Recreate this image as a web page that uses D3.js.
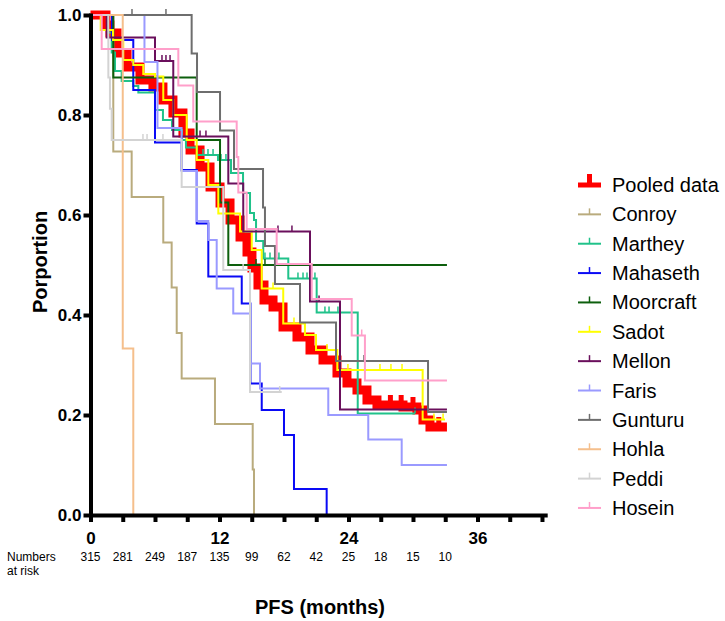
<!DOCTYPE html>
<html>
<head>
<meta charset="utf-8">
<script src="https://cdn.jsdelivr.net/npm/d3@7"></script>
<style>
  body { margin: 0; background: #fff; }
  svg { font-family: Arial, "Liberation Sans", sans-serif; }
</style>
</head>
<body>
<svg id="chart" width="725" height="621"></svg>
<script>
// Kaplan-Meier steps: [month, proportion from that month on]
var pooled = [[0,1],[1.44,0.98],[1.81,0.964],[2.47,0.924],[3.4,0.896],[4.6,0.87],[5.81,0.856],[6.74,0.83],[7.67,0.804],
  [8.6,0.764],[9.26,0.73],[10.19,0.696],[11.12,0.656],[12.05,0.624],[12.98,0.59],[13.91,0.556],[14.56,0.526],[15.02,0.494],
  [15.58,0.46],[16.14,0.43],[16.98,0.416],[17.91,0.376],[19.21,0.356],[20.42,0.33],[21.63,0.31],[22.93,0.284],[23.86,0.264],
  [24.79,0.25],[25.72,0.23],[26.65,0.22],[29.07,0.216],[30.37,0.21],[30.93,0.19],[31.58,0.176]];
var conroy = [[0,1],[2.12,0.727],[3.83,0.636],[6.77,0.545],[7.55,0.455],[8.02,0.364],[8.48,0.273],[11.58,0.182],[15.09,0.091],[15.21,0]];
var marthey = [[0,1],[1.53,0.965],[1.97,0.925],[2.28,0.888],[2.9,0.868],[3.98,0.858],[4.45,0.845],[6.0,0.81],[6.74,0.79],
  [7.58,0.77],[8.51,0.75],[8.88,0.735],[9.91,0.72],[11.86,0.71],[13.07,0.684],[14.19,0.644],[14.84,0.604],[15.21,0.59],
  [15.4,0.548],[16.07,0.513],[18.4,0.473],[21.04,0.405],[24.86,0.203]];
var mahaseth = [[0,1],[2.0,0.95],[3.98,0.85],[6.0,0.745],[8.48,0.69],[9.88,0.583],[10.96,0.477],[14.07,0.423],[14.88,0.263],
  [15.93,0.21],[18.0,0.16],[18.93,0.052],[21.97,0]];
var moorcraft = [[0,1],[2.12,0.875],[9.88,0.75],[12.05,0.625],[12.82,0.5]];
var sadot = [[0,1],[0.95,0.97],[2.09,0.95],[3.05,0.91],[3.98,0.9],[4.91,0.882],[6.0,0.877],[6.77,0.83],[7.7,0.8],[8.95,0.75],
  [9.88,0.71],[10.96,0.66],[11.89,0.603],[13.91,0.567],[15.0,0.53],[15.93,0.453],[17.93,0.383],[19.95,0.36],[20.98,0.33],
  [22.96,0.29],[30.9,0.191]];
var mellon = [[0,1],[1.51,0.955],[6.0,0.908],[7.7,0.757],[12.82,0.663],[14.21,0.567],[20.42,0.427],[23.21,0.211]];
var faris = [[0,1],[5.02,0.906],[6.23,0.774],[8.47,0.688],[9.91,0.588],[10.96,0.55],[11.74,0.453],[13.28,0.403],[14.84,0.303],
  [15.77,0.253],[22.12,0.2],[25.84,0.151],[28.95,0.1]];
var gunturu = [[0,1],[9.41,0.923],[9.91,0.846],[12.05,0.769],[13.35,0.692],[16.05,0.615],[16.23,0.538],[17.16,0.462],
  [19.49,0.385],[22.84,0.308],[31.4,0.206]];
var hohla = [[0,1],[3.0,0.333],[3.98,0]];
var peddi = [[0,1],[1.66,0.875],[1.81,0.8125],[1.97,0.75],[8.48,0.656],[12.35,0.49],[14.84,0.246]];
var hosein = [[0,1],[1.04,0.932],[8.17,0.859],[9.56,0.787],[13.6,0.716],[13.75,0.645],[14.53,0.572],[17.32,0.502],
  [20.58,0.432],[24.3,0.359],[25.53,0.269]];

// censored observations (months)
var pooledCens = [27.9, 28.9, 30.0, 32.4];
var marthyCens = [10.47, 10.93, 11.4, 12.14, 12.6, 16.23, 16.7, 17.53, 19.3, 19.77, 20.14, 20.88, 21.81, 22.19, 23.02, 30.19];
var moorcraftCens = [15.4, 16.23];
var sadotCens = [16.98, 18.93, 22.0, 23.95, 26.93, 27.95, 28.98, 31.95, 32.8];
var mellonCens = [6.65, 7.02, 7.4, 10.19, 10.74, 17.44, 18.74, 21.26];
var gunturuCens = [3.86, 7.02, 25.44];
var peddiCens = [4.88, 5.26, 6.74, 14.2, 17.6];
var hoseinCens = [25.23];

// last follow-up (months)
var studyEnd = {Conroy: 15.21, Marthey: 30.19, Mahaseth: 21.97, Moorcraft: 33.16, Sadot: 32.98, Mellon: 33.16,
  Faris: 33.16, Gunturu: 33.16, Hohla: 3.98, Peddi: 17.79, Hosein: 33.16};
var pooledEnd = 33.16;

var studyNames = ["Conroy", "Marthey", "Mahaseth", "Moorcraft", "Sadot", "Mellon", "Faris", "Gunturu", "Hohla", "Peddi", "Hosein"];
var studyColors = ["#b9ab7d", "#20c28a", "#0a0af5", "#0d5f0d", "#ffff00", "#6a0f5c", "#9a9aff", "#6e6e6e", "#f5bf8c", "#d3d3d3", "#ff9fca"];

var riskMonths = [0, 3, 6, 9, 12, 15, 18, 21, 24, 27, 30, 33];
var atRisk = [315, 281, 249, 187, 135, 99, 62, 42, 25, 18, 15, 10];

var studies = [
  {steps: conroy, cens: []}, {steps: marthey, cens: marthyCens}, {steps: mahaseth, cens: []},
  {steps: moorcraft, cens: moorcraftCens}, {steps: sadot, cens: sadotCens}, {steps: mellon, cens: mellonCens},
  {steps: faris, cens: []}, {steps: gunturu, cens: gunturuCens}, {steps: hohla, cens: []},
  {steps: peddi, cens: peddiCens}, {steps: hosein, cens: hoseinCens}
];
studies.forEach(function(s, i) { s.name = studyNames[i]; s.color = studyColors[i]; s.end = studyEnd[s.name]; });

var svg = d3.select("#chart");
var x = d3.scaleLinear().domain([0, 42.3]).range([90.5, 545.2]);
var y = d3.scaleLinear().domain([0, 1]).range([515, 15]);

function survAt(steps, t) {
  var s = 1;
  steps.forEach(function(p) { if (p[0] <= t) s = p[1]; });
  return s;
}
function withEnd(steps, end) {
  var pts = steps.slice();
  if (end > pts[pts.length - 1][0]) pts.push([end, pts[pts.length - 1][1]]);
  return pts;
}

var line = d3.line()
  .x(function(d) { return x(d[0]); })
  .y(function(d) { return y(d[1]); })
  .curve(d3.curveStepAfter);

var plot = svg.append("g");

// pooled curve, drawn first and thick
plot.append("path")
  .attr("d", line(withEnd(pooled, pooledEnd)))
  .attr("fill", "none")
  .attr("stroke", "#ff0000")
  .attr("stroke-width", 9)
  .attr("stroke-linejoin", "miter");
plot.selectAll(".pc").data(pooledCens).enter().append("line")
  .attr("x1", function(d) { return x(d); }).attr("x2", function(d) { return x(d); })
  .attr("y1", function(d) { return y(survAt(pooled, d)); })
  .attr("y2", function(d) { return y(survAt(pooled, d)) - 10; })
  .attr("stroke", "#ff0000").attr("stroke-width", 5);

studies.forEach(function(s) {
  var g = plot.append("g");
  g.append("path")
    .attr("d", line(withEnd(s.steps, s.end)))
    .attr("fill", "none")
    .attr("stroke", s.color)
    .attr("stroke-width", 2);
  g.selectAll("line").data(s.cens).enter().append("line")
    .attr("x1", function(d) { return x(d); }).attr("x2", function(d) { return x(d); })
    .attr("y1", function(d) { return y(survAt(s.steps, d)); })
    .attr("y2", function(d) { return y(survAt(s.steps, d)) - 6; })
    .attr("stroke", s.color).attr("stroke-width", 1.5);
});

// axes
var yAxis = svg.append("g").attr("transform", "translate(" + x(0) + ",0)")
  .call(d3.axisLeft(y).tickValues([0, 0.2, 0.4, 0.6, 0.8, 1]).tickFormat(d3.format(".1f"))
    .tickSize(7).tickPadding(2).tickSizeOuter(0));
var xAxis = svg.append("g").attr("transform", "translate(0," + y(0) + ")")
  .call(d3.axisBottom(x).tickValues(d3.range(0, 43, 3))
    .tickFormat(function(d) { return d % 12 === 0 ? d : ""; })
    .tickSize(7).tickPadding(10).tickSizeOuter(0));
[yAxis, xAxis].forEach(function(a) {
  a.select(".domain").attr("stroke", "#000").attr("stroke-width", 4).attr("stroke-linecap", "square");
  a.selectAll(".tick line").attr("stroke", "#000").attr("stroke-width", 4);
  a.selectAll(".tick text").attr("fill", "#000").style("font-size", "17px").style("font-weight", "bold")
    .style("font-family", "Arial, 'Liberation Sans', sans-serif");
});

// numbers at risk
svg.append("text").attr("x", 7).attr("y", 561).style("font-size", "12px").text("Numbers");
svg.append("text").attr("x", 7).attr("y", 575).style("font-size", "12px").text("at risk");
svg.selectAll(".risk").data(atRisk).enter().append("text")
  .attr("x", function(d, i) { return x(riskMonths[i]); })
  .attr("y", 561)
  .attr("text-anchor", "middle")
  .style("font-size", "12px")
  .text(function(d) { return d; });

// axis titles
svg.append("text").attr("x", 320).attr("y", 614).attr("text-anchor", "middle")
  .style("font-size", "20px").style("font-weight", "bold").text("PFS (months)");
svg.append("text").attr("transform", "translate(47,262) rotate(-90)").attr("text-anchor", "middle")
  .style("font-size", "20px").style("font-weight", "bold").text("Porportion");

// legend
var legendNames = ["Pooled data"].concat(studyNames);
var legendColors = ["#ff0000"].concat(studyColors);
var leg = svg.selectAll(".leg").data(legendNames).enter().append("g")
  .attr("transform", function(d, i) { return "translate(578," + (185 + i * 29.36) + ")"; });
leg.append("line").attr("x1", 0).attr("x2", 23).attr("y1", 0).attr("y2", 0)
  .attr("stroke", function(d, i) { return legendColors[i]; })
  .attr("stroke-width", function(d, i) { return i === 0 ? 5 : 2; });
leg.append("line").attr("x1", 11.5).attr("x2", 11.5)
  .attr("y1", 0).attr("y2", function(d, i) { return i === 0 ? -11 : -6; })
  .attr("stroke", function(d, i) { return legendColors[i]; })
  .attr("stroke-width", function(d, i) { return i === 0 ? 5 : 1.5; });
leg.append("text").attr("x", 34).attr("y", 7)
  .style("font-size", "20px")
  .text(function(d) { return d; });
</script>
</body>
</html>
